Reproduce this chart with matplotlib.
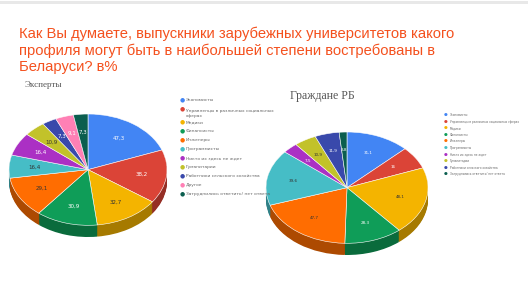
import numpy as np
import matplotlib.pyplot as plt
from matplotlib.colors import to_rgb
from matplotlib.patches import Rectangle

# %%
title = "Как Вы думаете, выпускники зарубежных университетов какого\nпрофиля могут быть в наибольшей степени востребованы в\nБеларуси? в%"

experts_labels = ["Экономисты", "Управленцы в различных социальных\nсферах", "Медики",
                  "Финансисты", "Инженеры", "Программисты", "Никто их здесь не ждет",
                  "Гуманитарии", "Работники сельского хозяйства", "Другое",
                  "Затруднились ответить/ нет ответа"]
experts_values = [47.3, 38.2, 32.7, 30.9, 29.1, 16.4, 16.4, 10.9, 7.3, 9.1, 7.3]
experts_colors = ["#4285f4", "#db4437", "#f4b400", "#0f9d58", "#ff6d01", "#46bdc6",
                  "#ab30c4", "#c2c22a", "#3949ab", "#ff80b5", "#0b5e4f"]

citizens_labels = ["Экономисты", "Управленцы в различных социальных сферах", "Медики",
                   "Финансисты", "Инженеры", "Программисты", "Никто их здесь не ждет",
                   "Гуманитарии", "Работники сельского хозяйства",
                   "Затруднились ответить/ нет ответа"]
citizens_values = [31.1, 16, 48.1, 28.3, 47.7, 39.6, 7.5, 10.9, 11.9, 3.8]
citizens_colors = ["#4285f4", "#db4437", "#f4b400", "#0f9d58", "#ff6d01", "#46bdc6",
                   "#ab30c4", "#c2c22a", "#3949ab", "#0b5e4f"]

light_fill = {"#f4b400", "#ff6d01", "#46bdc6", "#c2c22a"}

W, H = 528, 303


def fmt(v):
    return ("%g" % v).replace(".", ",")


def pie3d(rect_px, values, colors, depth=0.21, fs=4):
    x0, y0, w, h = rect_px
    ax = fig.add_axes([x0 / W, 1 - (y0 + h) / H, w / W, h / H])
    dark = [tuple(c * 0.68 for c in to_rgb(col)) for col in colors]
    # side of the pie: stack darker copies downwards
    for d in np.linspace(depth, 0.01, 14):
        ax.pie(values, colors=dark, startangle=90, counterclock=False,
               center=(0, -d), radius=1)
    wedges, texts = ax.pie(values, colors=colors, startangle=90, counterclock=False,
                           labels=[fmt(v) for v in values], labeldistance=0.68,
                           wedgeprops=dict(linewidth=0.4, edgecolor="white"),
                           textprops=dict(fontsize=fs))
    for t, col in zip(texts, colors):
        t.set_color("#333333" if col in light_fill else "white")
        t.set_ha("center")
        t.set_va("center")
    ax.set_aspect("auto")
    ax.set_xlim(-1, 1)
    ax.set_ylim(-1 - depth, 1)
    ax.axis("off")
    return ax


def legend(x, y, labels, colors, step, fs, wrap_extra=0.0):
    for lab, col in zip(labels, colors):
        fig.text((x - 6) / W, 1 - y / H, "\u25cf", color=col, fontsize=fs + 1,
                 ha="left", va="center")
        fig.text(x / W, 1 - y / H, lab, color="#666666", fontsize=fs,
                 ha="left", va="top" if "\n" in lab else "center",
                 linespacing=1.5)
        y += step + (wrap_extra if "\n" in lab else 0)


fig = plt.figure(figsize=(W / 100, H / 100), dpi=100)
fig.add_artist(Rectangle((0, 1 - 4 / H), 1, 3 / H, transform=fig.transFigure,
                         color="#e8e8e8", lw=0))

fig.text(19 / W, 1 - 27 / H, title, color="#f4511e", fontsize=10.6,
         family="Liberation Sans", ha="left", va="top", linespacing=1.2)
fig.text(25 / W, 1 - 85 / H, "Эксперты", color="#555555", fontsize=6.5,
         family="Liberation Serif", ha="left", va="center")
fig.text(290 / W, 1 - 96 / H, "Граждане РБ", color="#555555", fontsize=8.5,
         family="Liberation Serif", ha="left", va="center")

pie3d((9, 114, 158, 123), experts_values, experts_colors, fs=4)
pie3d((266, 132, 162, 123), citizens_values, citizens_colors, fs=3)

legend(186, 100, experts_labels, experts_colors, 9.0, 3.2, wrap_extra=4.0)
legend(450, 115, citizens_labels, citizens_colors, 6.6, 2.1)

fig.savefig("out.png", dpi=100)
